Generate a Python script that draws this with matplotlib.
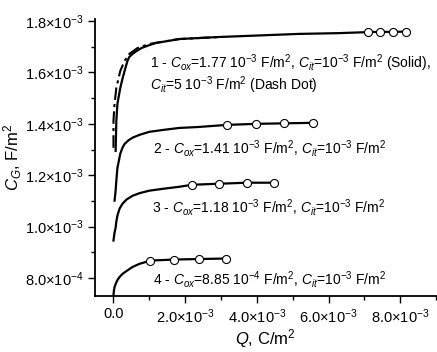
import matplotlib
matplotlib.use("Agg")
import matplotlib.pyplot as plt
from matplotlib.ticker import FuncFormatter, MultipleLocator
import numpy as np

plt.rcParams['font.family'] = ['Liberation Sans', 'DejaVu Sans']
plt.rcParams['mathtext.fontset'] = 'custom'
plt.rcParams['mathtext.rm'] = 'Liberation Sans'
plt.rcParams['mathtext.it'] = 'Liberation Sans:italic'
plt.rcParams['mathtext.bf'] = 'Liberation Sans:bold'

# curve 1, Cit = 1e-3 (solid)
q1 = [0.06e-3, 0.07e-3, 0.08e-3, 0.11e-3, 0.15e-3, 0.19e-3, 0.25e-3, 0.31e-3, 0.39e-3, 0.44e-3,
      0.53e-3, 0.64e-3, 0.78e-3, 0.97e-3, 1.19e-3, 1.5e-3, 1.83e-3, 2.39e-3, 2.95e-3, 4.06e-3,
      5.17e-3, 6.28e-3, 7.09e-3, 7.44e-3, 7.81e-3, 8.17e-3]
c1 = [1.295e-3, 1.353e-3, 1.412e-3, 1.478e-3, 1.509e-3, 1.540e-3, 1.575e-3, 1.606e-3, 1.645e-3, 1.660e-3,
      1.672e-3, 1.683e-3, 1.695e-3, 1.705e-3, 1.715e-3, 1.722e-3, 1.730e-3, 1.734e-3, 1.738e-3, 1.744e-3,
      1.750e-3, 1.753e-3, 1.757e-3, 1.758e-3, 1.758e-3, 1.759e-3]
# curve 1, Cit = 5e-3 (dash dot)
q1b = [0.0, 0.0, 0.03e-3, 0.08e-3, 0.19e-3, 0.31e-3, 0.44e-3, 0.67e-3, 1.0e-3, 1.83e-3, 2.95e-3]
c1b = [1.307e-3, 1.412e-3, 1.478e-3, 1.540e-3, 1.606e-3, 1.645e-3, 1.672e-3, 1.695e-3, 1.711e-3,
       1.730e-3, 1.738e-3]
# curve 2
q2 = [0.03e-3, 0.06e-3, 0.08e-3, 0.11e-3, 0.15e-3, 0.19e-3, 0.25e-3, 0.31e-3, 0.42e-3, 0.53e-3,
      0.72e-3, 1.0e-3, 1.42e-3, 1.83e-3, 2.39e-3, 3.17e-3, 3.97e-3, 4.75e-3, 5.56e-3]
c2 = [1.101e-3, 1.140e-3, 1.179e-3, 1.229e-3, 1.256e-3, 1.284e-3, 1.307e-3, 1.322e-3, 1.336e-3, 1.346e-3,
      1.357e-3, 1.369e-3, 1.377e-3, 1.384e-3, 1.388e-3, 1.396e-3, 1.400e-3, 1.402e-3, 1.404e-3]
# curve 3
q3 = [0.0, 0.03e-3, 0.06e-3, 0.08e-3, 0.11e-3, 0.17e-3, 0.25e-3, 0.36e-3, 0.53e-3, 0.72e-3,
      1.0e-3, 1.42e-3, 1.83e-3, 2.19e-3, 2.94e-3, 3.72e-3, 4.47e-3]
c3 = [0.946e-3, 0.977e-3, 0.996e-3, 1.020e-3, 1.043e-3, 1.070e-3, 1.089e-3, 1.105e-3, 1.120e-3, 1.130e-3,
      1.140e-3, 1.148e-3, 1.155e-3, 1.163e-3, 1.167e-3, 1.171e-3, 1.171e-3]
# curve 4
q4 = [0.0, 0.01e-3, 0.03e-3, 0.07e-3, 0.11e-3, 0.17e-3, 0.25e-3, 0.36e-3, 0.53e-3, 0.72e-3,
      1.03e-3, 1.69e-3, 2.39e-3, 3.14e-3]
c4 = [0.730e-3, 0.749e-3, 0.765e-3, 0.780e-3, 0.792e-3, 0.804e-3, 0.816e-3, 0.827e-3, 0.843e-3, 0.855e-3,
      0.868e-3, 0.872e-3, 0.874e-3, 0.876e-3]

# open-circle markers (last four points of each solid curve)
n_mark = 4

labels = [
    r'1 - $C_{ox}$=1.77 10$^{-3}$ F/m$^{2}$, $C_{it}$=10$^{-3}$ F/m$^{2}$ (Solid),',
    r'$C_{it}$=5 10$^{-3}$ F/m$^{2}$ (Dash Dot)',
    r'2 - $C_{ox}$=1.41 10$^{-3}$ F/m$^{2}$, $C_{it}$=10$^{-3}$ F/m$^{2}$',
    r'3 - $C_{ox}$=1.18 10$^{-3}$ F/m$^{2}$, $C_{it}$=10$^{-3}$ F/m$^{2}$',
    r'4 - $C_{ox}$=8.85 10$^{-4}$ F/m$^{2}$, $C_{it}$=10$^{-3}$ F/m$^{2}$',
]


def sci(v, pos):
    if abs(v) < 1e-12:
        return '0.0'
    e = int(np.floor(np.log10(abs(v)) + 1e-9))
    m = v / 10 ** e
    return '%.1f×10$^{%d}$' % (m, e)


fig = plt.figure(figsize=(4.37, 3.52), dpi=100)
ax = fig.add_axes([0.217, 0.159, 0.781, 0.787])

ax.plot(q1b, c1b, color='black', lw=1.5, ls=(0, (6, 2, 1.5, 2)), zorder=2)
for q, c in [(q1, c1), (q2, c2), (q3, c3), (q4, c4)]:
    ax.plot(q, c, color='black', lw=1.6, zorder=3)
    ax.plot(q[-n_mark:], c[-n_mark:], ls='none', marker='o', ms=5.8,
            mfc='white', mec='black', mew=0.8, zorder=4)

ax.set_xlim(-0.52e-3, 9.0e-3)
ax.set_ylim(0.73e-3, 1.808e-3)
ax.xaxis.set_major_locator(MultipleLocator(2e-3))
ax.xaxis.set_minor_locator(MultipleLocator(1e-3))
ax.yaxis.set_major_locator(MultipleLocator(0.2e-3))
ax.yaxis.set_minor_locator(MultipleLocator(0.1e-3))
ax.xaxis.set_major_formatter(FuncFormatter(sci))
ax.yaxis.set_major_formatter(FuncFormatter(sci))
ax.tick_params(which='major', length=5, width=1.0, labelsize=10.5, pad=3)
ax.tick_params(which='minor', length=3, width=1.0)

for s in ['top', 'right']:
    ax.spines[s].set_visible(False)
for s in ['left', 'bottom']:
    ax.spines[s].set_linewidth(1.3)

ax.set_xlabel(r'$Q$, C/m$^{2}$', fontsize=12, labelpad=1)
ax.set_ylabel(r'$C_G$, F/m$^{2}$', fontsize=12, labelpad=1)

pos = [(0.161, 0.841), (0.161, 0.762), (0.170, 0.534), (0.167, 0.321), (0.170, 0.061)]
for (x, y), t in zip(pos, labels):
    ax.text(x, y, t, transform=ax.transAxes, fontsize=10, ha='left', va='center')

fig.savefig('out.png', dpi=100)
